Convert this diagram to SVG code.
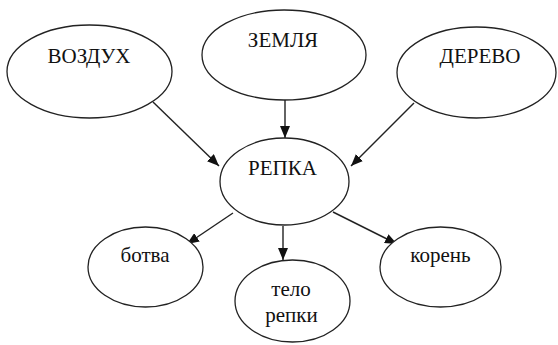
<svg xmlns="http://www.w3.org/2000/svg" width="558" height="345" viewBox="0 0 558 345">
<defs>
<marker id="ah" viewBox="0 0 12 10" refX="12" refY="5" markerWidth="12" markerHeight="10" markerUnits="userSpaceOnUse" orient="auto">
<path d="M0,0 L12,5 L0,10 Z" fill="#111"/>
</marker>
<style>
.n ellipse{fill:#fff;stroke:#222;stroke-width:1.3}
.n text{font-family:"Times New Roman","Liberation Serif",serif;font-size:21px;fill:#111;text-anchor:middle}
.c line{stroke:#222;stroke-width:1.4;marker-end:url(#ah)}
</style>
</defs>
<rect width="558" height="345" fill="#fff"/>
<g class="c" id="connectors">
<line x1="153" y1="102" x2="219" y2="166"/>
<line x1="285" y1="100" x2="285" y2="138"/>
<line x1="414" y1="103" x2="351" y2="166"/>
<line x1="233" y1="213" x2="187" y2="244"/>
<line x1="283" y1="226" x2="283" y2="260"/>
<line x1="333" y1="212" x2="397" y2="244"/>
</g>
<g class="n" id="vozduh"><ellipse cx="89.5" cy="71.5" rx="82.5" ry="46.5"/><text x="89" y="63">ВОЗДУХ</text></g>
<g class="n" id="zemlya"><ellipse cx="284" cy="55" rx="82" ry="45"/><text x="283" y="47">ЗЕМЛЯ</text></g>
<g class="n" id="derevo"><ellipse cx="476.5" cy="72.5" rx="79.5" ry="45.5"/><text x="480" y="63">ДЕРЕВО</text></g>
<g class="n" id="repka"><ellipse cx="284.5" cy="181.5" rx="64.5" ry="43.5"/><text x="282.5" y="175">РЕПКА</text></g>
<g class="n" id="botva"><ellipse cx="145.5" cy="267" rx="57.5" ry="40"/><text x="145" y="262">ботва</text></g>
<g class="n" id="telo"><ellipse cx="292.5" cy="301" rx="57.5" ry="41"/><text x="291" y="296">тело</text><text x="291.5" y="322">репки</text></g>
<g class="n" id="koren"><ellipse cx="440.5" cy="267" rx="60.5" ry="40"/><text x="440.5" y="262">корень</text></g>
</svg>
